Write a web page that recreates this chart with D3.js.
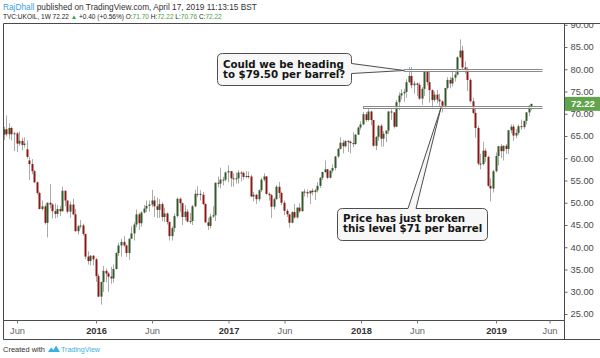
<!DOCTYPE html>
<html>
<head>
<meta charset="utf-8">
<script src="https://d3js.org/d3.v7.min.js"></script>
<style>
  body { margin: 0; background: #fff; }
  svg { display: block; font-family: "Liberation Sans", Arial, sans-serif; }
</style>
</head>
<body>
<svg id="chart" width="600" height="358"></svg>
<script>
// weekly bars, first bar starts on this Monday
const firstWeek = "2015-04-27";

const opens = [
  65.3,66.5,65.4,66.8,65.4,65.6,63.3,63.9,63.0,62.0,59.5,58.7,57.1,54.6,52.2,48.6,49.2,45.5,50.0,49.6,
  48.1,47.5,48.6,48.1,52.7,50.5,48.0,49.6,47.4,43.6,44.7,44.9,43.0,37.9,36.9,38.1,
  37.3,33.5,28.9,32.2,34.7,34.1,33.4,33.0,35.1,38.7,40.4,41.2,40.4,38.7,41.9,43.1,45.1,47.4,45.4,47.8,
  48.7,49.3,49.6,50.5,49.2,48.4,49.7,46.8,47.6,45.7,42.5,44.3,47.0,50.9,49.9,46.8,48.0,45.8,45.9,49.2,
  52.0,52.0,51.8,49.7,45.6,44.8,46.9,47.2,54.5,54.3,55.2,55.2,
  56.8,57.1,55.5,55.5,55.5,56.8,56.7,55.8,56.0,55.9,51.4,51.8,50.8,52.8,55.2,55.9,52.0,51.7,49.1,50.8,
  53.6,52.2,50.0,48.2,47.4,45.5,47.9,46.7,48.9,48.1,52.5,52.4,52.1,52.7,52.4,52.8,53.8,55.6,56.9,57.5,
  55.6,57.2,57.8,60.4,62.1,63.5,62.7,63.9,63.7,63.4,63.2,65.3,
  66.9,67.6,69.9,68.6,70.5,68.6,62.8,64.8,67.3,64.4,65.5,66.2,70.5,70.3,67.1,72.6,74.1,74.6,74.9,77.1,
  78.5,76.4,76.8,76.5,73.4,75.6,79.4,77.1,75.3,73.1,74.3,73.2,72.8,71.8,75.8,77.6,76.8,78.1,78.8,82.7,
  84.2,80.4,79.8,77.6,72.8,70.2,66.8,58.8,58.7,61.7,60.3,53.8,53.2,
  57.1,60.5,62.7,61.6,62.8,62.1,66.3,67.1,65.1,65.7,67.2,67.0,68.4,70.3,71.7
];
const highs = [
  67.1,69.6,67.9,67.1,65.9,65.9,66.0,64.6,64.7,64.0,60.3,59.8,57.4,54.8,52.5,50.5,49.6,50.1,54.2,49.9,
  49.8,49.5,49.3,53.6,52.7,50.5,50.3,50.9,48.6,45.0,46.1,45.3,43.0,39.1,38.2,38.2,
  37.6,34.0,32.3,35.8,35.2,34.4,35.6,36.1,38.9,41.0,41.9,42.5,40.6,42.0,44.7,45.6,48.5,47.8,48.1,49.5,
  50.5,50.5,52.9,51.5,51.2,50.8,50.1,48.9,47.8,45.7,44.7,47.6,51.2,51.2,50.0,49.5,48.6,47.7,49.5,52.9,
  53.7,52.8,52.4,49.9,46.6,47.5,49.2,54.5,55.9,57.9,55.8,57.0,
  58.4,57.1,56.6,56.8,57.3,57.1,57.0,57.1,57.0,56.3,52.4,52.0,53.0,55.6,56.6,56.0,52.3,52.0,51.1,54.0,
  54.7,52.5,50.5,48.6,47.5,48.1,49.7,49.0,49.9,52.5,53.1,53.0,52.6,53.2,53.1,54.6,55.8,57.0,59.5,57.6,
  57.3,58.6,60.5,62.3,64.7,64.1,64.0,64.1,64.0,65.8,65.5,67.1,
  68.3,70.4,70.4,71.3,70.7,68.6,65.0,67.5,67.7,66.1,66.3,70.6,71.0,70.4,73.1,74.8,75.5,75.6,77.8,80.5,
  80.5,77.4,77.0,77.0,76.0,79.9,79.9,79.4,75.5,75.0,75.4,74.5,73.0,75.8,78.2,78.3,80.1,79.5,82.9,86.7,
  85.3,81.8,80.5,78.0,73.6,71.3,67.3,61.0,63.7,62.2,60.6,55.5,57.4,
  61.3,62.8,63.2,62.9,63.2,66.3,67.6,67.6,66.6,67.6,68.7,68.4,70.4,71.9,72.22
];
const lows = [
  64.1,64.9,64.3,64.0,61.6,61.4,62.8,61.8,62.4,59.9,55.1,56.4,54.4,51.8,48.5,48.3,45.1,42.2,48.7,46.5,
  46.5,46.7,47.0,48.0,49.2,47.6,46.6,47.2,43.5,42.9,44.2,42.6,37.3,36.1,35.9,35.9,
  32.2,28.8,27.1,30.0,32.1,30.0,31.8,32.0,35.0,38.0,37.9,40.1,37.8,37.2,41.9,41.5,44.5,43.9,44.6,47.6,
  47.9,48.0,49.0,46.8,46.6,46.6,45.9,45.7,45.1,41.5,41.5,43.4,46.7,48.0,45.0,46.0,45.6,45.2,45.0,49.0,
  51.3,50.5,49.5,45.5,43.9,44.2,46.6,45.9,53.5,53.3,53.9,54.8,
  54.6,53.6,53.6,54.3,54.3,54.8,55.2,55.5,55.4,51.3,50.3,49.7,50.3,52.4,54.8,51.8,50.5,46.6,48.5,50.7,
  51.0,49.5,47.2,46.8,44.4,45.4,46.4,46.4,47.7,48.0,51.4,51.2,49.7,51.7,50.6,52.3,53.3,55.1,56.7,55.3,
  55.5,56.7,57.3,60.1,62.0,61.1,62.4,61.4,61.1,62.5,63.0,65.2,
  66.4,67.4,68.2,68.3,67.4,62.6,61.8,63.9,62.6,62.6,63.6,65.5,68.6,66.7,67.0,70.8,73.2,72.7,73.6,76.9,
  75.7,74.5,74.0,73.1,72.0,74.0,76.4,72.5,71.2,72.7,72.3,71.7,70.3,71.3,75.5,75.7,76.1,77.2,78.6,82.4,
  79.8,79.0,75.1,72.5,69.9,64.6,58.4,57.5,58.4,59.1,53.6,50.3,52.3,
  56.8,58.4,60.0,59.5,61.0,61.0,65.6,63.9,64.5,65.2,66.4,66.6,67.6,69.5,70.76
];
const closes = [
  66.5,65.4,66.8,65.4,65.6,63.3,63.9,63.0,63.3,60.3,58.7,57.1,54.6,52.2,48.6,49.2,45.5,50.0,49.6,48.1,
  47.5,48.6,48.1,52.7,50.5,48.0,49.6,47.4,43.6,44.7,44.9,43.0,37.9,36.9,38.1,37.3,
  33.5,28.9,32.2,34.7,34.1,33.4,33.0,35.1,38.7,40.4,41.2,40.4,38.7,41.9,43.1,45.1,47.4,45.4,47.8,48.7,
  49.3,49.6,50.5,49.2,48.4,49.7,46.8,47.6,45.7,42.5,44.3,47.0,50.9,49.9,46.8,48.0,45.8,45.9,49.2,52.0,
  52.0,51.8,49.7,45.6,44.8,46.9,47.2,54.5,54.3,55.2,55.2,56.8,
  57.1,55.5,55.5,55.5,56.8,56.7,55.8,56.0,55.9,51.4,51.8,50.8,52.8,55.2,55.9,52.0,51.7,49.1,50.8,53.6,
  52.2,50.0,48.2,47.4,45.5,47.9,46.7,48.9,48.1,52.5,52.4,52.1,52.7,52.4,52.8,53.8,55.6,56.9,57.5,55.6,
  57.2,57.8,60.4,62.1,63.5,62.7,63.9,63.7,63.4,63.2,65.3,66.9,
  67.6,69.9,68.6,70.5,68.6,62.8,64.8,67.3,64.4,65.5,66.2,70.5,70.3,67.1,72.6,74.1,74.6,74.9,77.1,78.5,
  76.4,76.8,76.5,73.4,75.6,79.4,77.1,75.3,73.1,74.3,73.2,72.8,71.8,75.8,77.6,76.8,78.1,78.8,82.7,84.2,
  80.4,79.8,77.6,72.8,70.2,66.8,58.8,58.7,61.7,60.3,53.8,53.2,57.1,
  60.5,62.7,61.6,62.8,62.1,66.3,67.1,65.1,65.7,67.2,67.0,68.4,70.3,71.8,72.22
];

const priceTicks = [25, 30, 35, 40, 45, 50, 55, 60, 65, 70, 75, 80, 85, 90];
const timeTicks = ["2015-06-01","2016-01-04","2016-06-06","2017-01-02","2017-06-05",
                   "2018-01-01","2018-06-04","2019-01-07","2019-06-03"];

// drawn levels and callouts
const levels = [79.7, 71.4];
const levelStart = ["2018-04-30", "2018-01-08"];
const levelEnd = "2019-05-13";
const callout1 = ["Could we be heading", "to $79.50 per barrel?"];
const callout2 = ["Price has just broken", "this level $71 per barrel"];
const callout2Tip = "2018-08-09";
const lastPrice = 72.22;

const W = 600, H = 358;
const plot = {left: 3.5, top: 23.5, right: 564.5, bottom: 320.5};
const upColor = "#35592b", downColor = "#8c1717", wickColor = "#ababab", green = "#3fa23a";

const svg = d3.select("#chart");
const parse = d3.utcParse("%Y-%m-%d");

const start = parse(firstWeek);
const bars = opens.map((o, i) => ({
  date: d3.utcWeek.offset(start, i),
  open: o, high: highs[i], low: lows[i], close: closes[i]
}));

const x = d3.scaleUtc()
  .domain([parse("2016-01-04"), parse("2019-01-07")])
  .range([96, 496]);
const y = d3.scaleLinear()
  .domain([25, 85])
  .range([314, 47]);

svg.append("rect").attr("width", W).attr("height", H).attr("fill", "#fff");

const defs = svg.append("defs");
defs.append("clipPath").attr("id", "plotClip").append("rect")
  .attr("x", plot.left + 0.5).attr("y", plot.top + 0.5)
  .attr("width", plot.right - plot.left - 1).attr("height", plot.bottom - plot.top - 1);
// axis group is translated to plot.right, so its clip box starts at 0
defs.append("clipPath").attr("id", "axisClip").append("rect")
  .attr("x", 0).attr("y", plot.top + 0.5)
  .attr("width", W - plot.right).attr("height", plot.bottom - plot.top - 1);

// candles
const g = svg.append("g").attr("clip-path", "url(#plotClip)");

g.selectAll(".wick")
  .data(bars)
  .enter()
  .append("line")
  .attr("class", "wick")
  .attr("x1", d => Math.floor(x(d.date)) + 0.5)
  .attr("x2", d => Math.floor(x(d.date)) + 0.5)
  .attr("y1", d => y(d.high))
  .attr("y2", d => y(d.low))
  .attr("stroke", wickColor)
  .attr("stroke-width", 1);

g.selectAll(".body")
  .data(bars)
  .enter()
  .append("rect")
  .attr("class", "body")
  .attr("x", d => Math.floor(x(d.date)) - 0.5)
  .attr("width", 2)
  .attr("y", d => y(Math.max(d.open, d.close)))
  .attr("height", d => Math.max(1, Math.abs(y(d.open) - y(d.close))))
  .attr("fill", d => d.close >= d.open ? upColor : downColor);

// level bands
g.selectAll(".level")
  .data(levels)
  .enter()
  .append("rect")
  .attr("class", "level")
  .attr("x", (d, i) => x(parse(levelStart[i])))
  .attr("width", (d, i) => x(parse(levelEnd)) - x(parse(levelStart[i])))
  .attr("y", d => Math.round(y(d)) - 1.5)
  .attr("height", 2)
  .attr("fill", "#fff")
  .attr("fill-opacity", 0.7)
  .attr("stroke", "#8a8a8a")
  .attr("stroke-width", 1);

// callouts
function rounded(b, r, pointer) {
  const p = d3.path();
  p.moveTo(b.x0 + r, b.y0);
  if (pointer.side === "top") {
    p.lineTo(pointer.a, b.y0);
    p.lineTo(pointer.tx, pointer.ty);
    p.lineTo(pointer.b, b.y0);
  }
  p.lineTo(b.x1 - r, b.y0);
  p.quadraticCurveTo(b.x1, b.y0, b.x1, b.y0 + r);
  if (pointer.side === "right") {
    p.lineTo(b.x1, pointer.a);
    p.lineTo(pointer.tx, pointer.ty);
    p.lineTo(b.x1, pointer.b);
  }
  p.lineTo(b.x1, b.y1 - r);
  p.quadraticCurveTo(b.x1, b.y1, b.x1 - r, b.y1);
  p.lineTo(b.x0 + r, b.y1);
  p.quadraticCurveTo(b.x0, b.y1, b.x0, b.y1 - r);
  p.lineTo(b.x0, b.y0 + r);
  p.quadraticCurveTo(b.x0, b.y0, b.x0 + r, b.y0);
  p.closePath();
  return p.toString();
}

const box1 = {x0: 217.5, y0: 53.5, x1: 351.5, y1: 85.5};
const box2 = {x0: 337.5, y0: 208.5, x1: 487.5, y1: 240.5};

svg.append("path")
  .attr("d", rounded(box1, 5, {side: "right", a: 63.5, b: 73.5,
    tx: x(parse(levelStart[0])), ty: Math.round(y(levels[0])) - 0.5}))
  .attr("fill", "#f7f7f7").attr("stroke", "#4d4d4d").attr("stroke-width", 1);

svg.append("path")
  .attr("d", rounded(box2, 5, {side: "top", a: 408, b: 416,
    tx: x(parse(callout2Tip)), ty: Math.round(y(levels[1])) - 0.5}))
  .attr("fill", "#f7f7f7").attr("stroke", "#4d4d4d").attr("stroke-width", 1);

const calloutText = svg.append("g")
  .attr("font-family", "'DejaVu Sans', Verdana, sans-serif")
  .attr("font-weight", "bold")
  .attr("fill", "#151515");

const probe = calloutText.append("text").attr("font-size", 10).text(callout1[0]);
const calloutSize = 10 * 121 / probe.node().getComputedTextLength();
probe.remove();

callout1.forEach((t, i) => {
  calloutText.append("text").attr("x", 223).attr("y", 67.5 + i * 10)
    .attr("font-size", calloutSize).text(t);
});
callout2.forEach((t, i) => {
  calloutText.append("text").attr("x", 343).attr("y", 221.5 + i * 10)
    .attr("font-size", calloutSize).text(t);
});

// frame
const frameColor = "#4a4a4a";
[[plot.left, plot.top, W, plot.top],
 [plot.left, plot.top, plot.left, 339.5],
 [plot.left, 339.5, W, 339.5],
 [plot.left, plot.bottom, plot.right, plot.bottom],
 [plot.right, plot.top, plot.right, 339.5]].forEach(l => {
  svg.append("line").attr("x1", l[0]).attr("y1", l[1]).attr("x2", l[2]).attr("y2", l[3])
    .attr("stroke", frameColor);
});

// price axis
const yAxis = svg.append("g")
  .attr("transform", `translate(${plot.right},0)`)
  .attr("clip-path", "url(#axisClip)")
  .call(d3.axisRight(y).tickValues(priceTicks).tickFormat(d3.format(".2f")).tickSize(3).tickPadding(3));
yAxis.select(".domain").remove();
yAxis.selectAll(".tick line").attr("stroke", "#666");
yAxis.selectAll("text").attr("fill", "#4a4a4a")
  .attr("font-family", "'Liberation Sans', Arial, sans-serif").attr("font-size", 9.3);

// last price label
const ly = y(lastPrice);
svg.append("rect").attr("x", plot.right + 0.5).attr("y", ly - 7).attr("width", W - plot.right)
  .attr("height", 14).attr("fill", "#62a34e");
svg.append("text").attr("x", plot.right + 6.5).attr("y", ly + 3.3)
  .attr("fill", "#fff").attr("font-size", 9.5).attr("font-weight", "bold").text(lastPrice.toFixed(2));

// time axis
const xAxis = svg.append("g")
  .attr("transform", `translate(0,${plot.bottom})`)
  .call(d3.axisBottom(x)
    .tickValues(timeTicks.map(parse))
    .tickFormat(d => d.getUTCMonth() === 0 ? d3.utcFormat("%Y")(d) : "Jun")
    .tickSize(3).tickPadding(4));
xAxis.select(".domain").remove();
xAxis.selectAll(".tick line").attr("stroke", "#777");
xAxis.selectAll("text")
  .attr("font-family", "'Liberation Sans', Arial, sans-serif")
  .attr("font-size", 9.3)
  .attr("fill", d => d.getUTCMonth() === 0 ? "#333" : "#666")
  .attr("font-weight", d => d.getUTCMonth() === 0 ? "bold" : "normal");

// header
function fit(sel, target) {
  const w = sel.node().getComputedTextLength();
  sel.attr("font-size", parseFloat(sel.attr("font-size")) * target / w);
}
const h1 = svg.append("text").attr("x", 3).attr("y", 9.5).attr("font-size", 9).attr("fill", "#333");
h1.append("tspan").attr("fill", "#3d9fe0").text("RajDhall");
h1.append("tspan").text(" published on TradingView.com, April 17, 2019 11:13:15 BST");
fit(h1, 254);

const h2 = svg.append("text").attr("x", 3).attr("y", 18.5).attr("font-size", 9).attr("fill", "#222");
const h2parts = [
  ["TVC:UKOIL, 1W  72.22 ", "#222"], ["\u25B2", green], [" +0.40 (+0.56%)  O:", "#222"],
  ["71.70", green], [" H:", "#222"], ["72.22", green], [" L:", "#222"], ["70.76", green],
  [" C:", "#222"], ["72.22", green]
];
h2parts.forEach(p => h2.append("tspan").attr("fill", p[1]).text(p[0]));
fit(h2, 219);

// footer
const foot = svg.append("g");
const f1 = foot.append("text").attr("x", 3).attr("y", 352).attr("font-size", 7.5).attr("fill", "#333")
  .text("Created with");
fit(f1, 42);
foot.append("path")
  .attr("d", "M48,352 L51,347.5 L53.5,350 L56,345.5 L60,352 Z")
  .attr("fill", "#3bb0e2");
const f2 = foot.append("text").attr("x", 61).attr("y", 352).attr("font-size", 7.5).attr("fill", "#3bb0e2")
  .text("TradingView");
fit(f2, 39);
</script>
</body>
</html>
